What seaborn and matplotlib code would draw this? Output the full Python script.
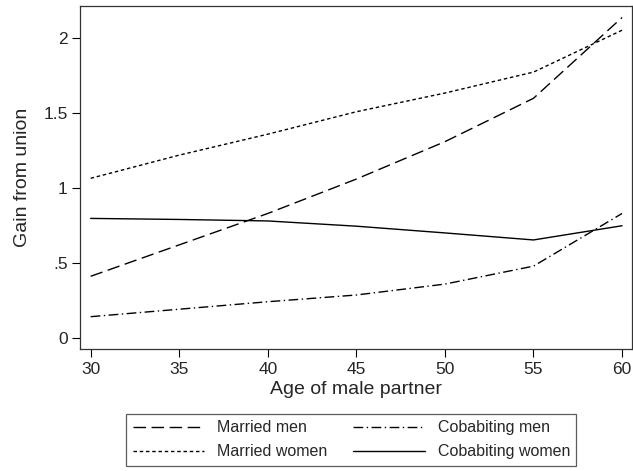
import matplotlib
matplotlib.use("Agg")
import matplotlib.pyplot as plt
import seaborn as sns
import pandas as pd

ages = [30, 35, 40, 45, 50, 55, 60]
married_men = [0.41, 0.62, 0.83, 1.06, 1.31, 1.60, 2.14]
married_women = [1.065, 1.22, 1.36, 1.51, 1.635, 1.775, 2.055]
cohab_men = [0.14, 0.19, 0.24, 0.285, 0.358, 0.478, 0.83]
cohab_women = [0.797, 0.79, 0.78, 0.745, 0.70, 0.653, 0.748]
series_names = ["Married men", "Married women", "Cobabiting men", "Cobabiting women"]
x_ticks = [30, 35, 40, 45, 50, 55, 60]
y_ticks = [0, 0.5, 1, 1.5, 2]
y_tick_labels = ["0", ".5", "1", "1.5", "2"]

sns.set_theme(style="white")
plt.rcParams["font.family"] = ["Liberation Sans", "DejaVu Sans"]

rows = []
for name, vals in zip(series_names, [married_men, married_women, cohab_men, cohab_women]):
    for a, v in zip(ages, vals):
        rows.append({"age": a, "gain": v, "series": name})
df = pd.DataFrame(rows)

fig = plt.figure(figsize=(6.33, 4.71), dpi=100)
ax = fig.add_axes([0.1264, 0.259, 0.872, 0.728])

dashes = {
    "Married men": (9, 4),
    "Married women": (2.5, 2),
    "Cobabiting men": (7, 2.5, 1, 2.5),
    "Cobabiting women": "",
}
sns.lineplot(data=df, x="age", y="gain", style="series", style_order=series_names,
             dashes=dashes, color="black", linewidth=1.0, ax=ax, legend=False)

ax.set_xlim(29.4, 60.56)
ax.set_ylim(-0.076, 2.216)
ax.set_xticks(x_ticks)
ax.set_yticks(y_ticks)
ax.set_yticklabels(y_tick_labels)
ax.tick_params(axis="both", direction="out", length=6, width=0.8, color="black",
               labelsize=12.5, bottom=True, left=True, pad=3)
ax.set_xlabel("Age of male partner", fontsize=14, labelpad=3)
ax.set_ylabel("Gain from union", fontsize=14, labelpad=9)
for s in ax.spines.values():
    s.set_color("#333333")
    s.set_linewidth(0.9)

handles = ax.get_lines()[:4]
leg = fig.legend(handles, series_names, ncol=2, loc="upper center",
                 bbox_to_anchor=(0.555, 0.138), frameon=True, fancybox=False,
                 edgecolor="#333333", fontsize=11.5, handlelength=4.5,
                 columnspacing=1.6, borderpad=0.4, labelspacing=0.55,
                 bbox_transform=fig.transFigure)
leg.get_frame().set_linewidth(0.9)

fig.savefig("out.png", dpi=100)
